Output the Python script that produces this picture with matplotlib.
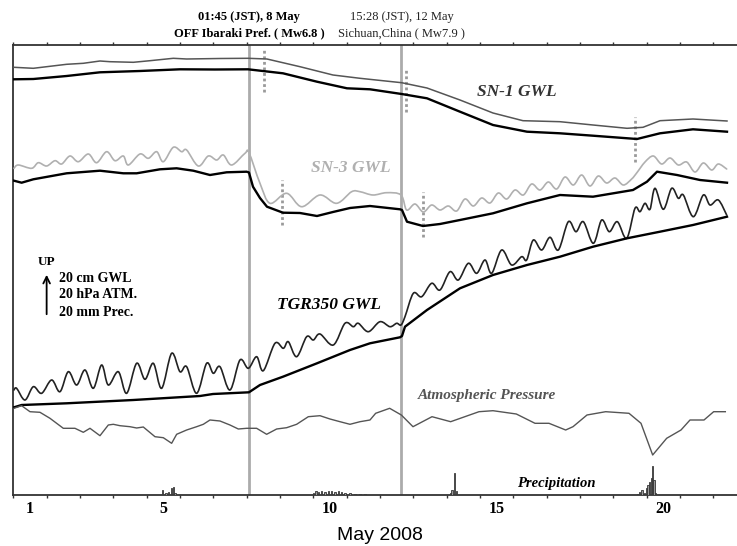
import matplotlib
matplotlib.use("Agg")
import matplotlib.pyplot as plt
import matplotlib.transforms as mtransforms
from matplotlib.path import Path
from matplotlib.patches import PathPatch

# ---------------- data (time in days of May 2008, JST; level in relative units) ----------------
sn1_upper_t = [1.02, 1.60, 2.60, 3.10, 3.60, 3.90, 4.60, 5.10, 5.80, 6.20, 7.20, 8.04, 8.61, 9.60, 10.59,
               11.40, 12.65, 13.41, 14.40, 15.39, 16.29, 17.40, 18.39, 19.41, 19.89, 20.40, 21.39, 22.41]
sn1_upper_v = [427.7, 426.7, 430.7, 431.7, 434.0, 433.3, 432.7, 434.3, 436.7, 436.0, 436.5, 436.7, 436.0, 428.3, 420.0,
               416.7, 412.3, 407.0, 395.0, 382.0, 374.3, 373.3, 370.0, 366.7, 367.7, 374.3, 376.0, 374.0]

sn1_lower_t = [1.02, 1.60, 2.60, 3.60, 4.80, 6.00, 7.05, 8.04, 9.09, 10.11, 11.01, 11.70, 12.65, 13.41,
               14.40, 15.39, 16.41, 17.40, 18.39, 19.71, 20.40, 21.39, 22.41]
sn1_lower_v = [415.7, 416.0, 419.0, 422.7, 424.0, 425.7, 425.5, 425.7, 421.7, 413.3, 406.7, 405.7, 401.0, 396.7,
               383.3, 370.0, 363.3, 361.7, 359.3, 356.0, 361.7, 365.7, 363.3]

sn3_raw_t = [1.02, 1.15, 1.55, 1.75, 2.00, 2.25, 2.45, 2.70, 2.95, 3.25, 3.50, 3.80, 4.05, 4.30, 4.45, 4.80,
             5.05, 5.30, 5.50, 5.80, 6.05, 6.20, 6.55, 6.85, 7.10, 7.30, 7.55, 7.95, 8.07, 8.40, 8.70,
             9.20, 9.65, 10.20, 10.70, 11.15, 11.40, 11.79, 12.20, 12.63, 12.80, 13.05, 13.30, 13.55,
             13.80, 14.05, 14.30, 14.55, 14.80, 15.05, 15.30, 15.55, 15.80, 16.05, 16.30, 16.55, 16.80,
             17.05, 17.30, 17.55, 17.80, 18.05, 18.30, 18.55, 18.80, 19.05, 19.30, 19.55, 19.70, 19.95,
             20.20, 20.45, 20.70, 20.95, 21.20, 21.45, 21.70, 21.95, 22.15, 22.40]
sn3_raw_v = [326.7, 330.0, 326.7, 332.3, 329.0, 334.3, 331.0, 339.0, 333.3, 341.0, 332.3, 343.3, 334.3, 339.0,
             330.0, 341.0, 336.7, 343.3, 333.3, 347.7, 343.3, 345.0, 329.0, 339.0, 335.0, 340.0, 330.0,
             341.7, 342.3, 311.7, 291.7, 301.7, 288.3, 300.0, 291.7, 303.3, 303.3, 300.0, 302.3, 300.0,
             285.0, 291.0, 283.0, 290.0, 285.0, 289.0, 284.0, 296.0, 289.0, 297.0, 292.0, 302.0, 296.0,
             305.0, 300.0, 311.0, 305.0, 313.0, 306.0, 318.0, 310.0, 320.0, 309.0, 319.0, 312.0, 317.0,
             310.0, 316.0, 322.0, 333.0, 339.0, 331.0, 337.0, 330.0, 333.0, 323.0, 332.0, 325.0, 331.0, 326.0]

sn3_corr_t = [1.02, 1.25, 1.60, 2.60, 3.60, 4.30, 4.70, 5.40, 5.90, 6.40, 6.90, 7.40, 8.00, 8.07, 8.19,
              8.40, 8.61, 9.09, 9.60, 10.11, 10.59, 11.10, 11.70, 12.60, 12.66, 12.81, 13.29, 13.80,
              14.40, 15.39, 16.41, 17.40, 18.39, 19.59, 20.01, 20.31, 20.91, 21.60, 22.41]
sn3_corr_v = [314.3, 312.3, 315.7, 321.7, 324.3, 321.7, 321.7, 325.7, 326.7, 324.3, 320.0, 322.7, 323.3, 322.5,
              308.3, 297.0, 288.3, 282.3, 282.0, 279.0, 283.0, 287.0, 289.0, 285.7, 285.0, 273.3, 269.0,
              271.0, 275.0, 281.7, 291.7, 300.0, 298.3, 305.0, 313.3, 323.3, 320.0, 315.0, 312.3]

tgr_raw_t = [1.02, 1.10, 1.35, 1.60, 1.85, 2.15, 2.40, 2.65, 2.90, 3.15, 3.40, 3.65, 3.85, 4.15, 4.40, 4.70,
             4.95, 5.20, 5.45, 5.75, 6.00, 6.20, 6.50, 6.80, 7.00, 7.20, 7.50, 7.80, 8.05, 8.30, 8.50,
             8.85, 9.10, 9.25, 9.50, 9.80, 10.00, 10.20, 10.60, 10.95, 11.20, 11.35, 11.65, 12.00, 12.30,
             12.50, 12.63, 12.75, 13.00, 13.25, 13.55, 13.80, 14.10, 14.35, 14.65, 14.90, 15.15, 15.35,
             15.65, 15.95, 16.25, 16.40, 16.60, 16.85, 17.10, 17.35, 17.65, 17.88, 18.10, 18.40, 18.65,
             18.88, 19.12, 19.40, 19.65, 19.80, 19.95, 20.10, 20.25, 20.50, 20.75, 20.95, 21.10, 21.40,
             21.70, 21.90, 22.15, 22.40]
tgr_raw_v = [105.0, 106.7, 95.0, 108.3, 101.7, 115.0, 103.3, 123.3, 110.0, 125.0, 106.7, 130.0, 110.0, 123.3,
             101.7, 131.7, 115.7, 131.7, 106.7, 141.7, 123.3, 128.3, 101.7, 131.7, 121.7, 128.3, 105.0,
             135.0, 126.7, 138.3, 124.3, 151.7, 146.7, 153.3, 138.3, 158.3, 155.0, 161.0, 150.0, 171.7,
             168.3, 171.7, 163.3, 173.3, 168.3, 171.7, 170.0, 178.3, 201.7, 198.3, 211.7, 205.0, 223.3,
             215.0, 231.7, 221.7, 235.0, 221.7, 245.0, 230.0, 238.3, 235.0, 255.0, 245.0, 257.7, 245.0,
             273.3, 263.3, 273.3, 251.7, 275.0, 263.3, 273.3, 256.7, 286.7, 283.3, 291.7, 285.7, 306.7,
             285.7, 306.7, 296.7, 300.0, 278.3, 300.0, 290.0, 295.0, 280.0]

tgr_corr_t = [1.02, 1.25, 2.60, 4.60, 6.60, 6.99, 8.07, 8.40, 9.09, 10.11, 11.10, 11.70, 12.60, 12.66, 12.75,
              13.41, 14.40, 15.39, 16.41, 17.40, 18.39, 19.41, 20.40, 21.39, 22.41]
tgr_corr_v = [87.7, 90.0, 91.7, 95.0, 99.0, 101.0, 102.7, 110.0, 118.3, 131.7, 145.0, 151.7, 157.7, 159.0, 168.3,
              185.0, 206.7, 220.0, 230.0, 238.3, 248.3, 256.7, 263.3, 270.0, 278.3]

atm_t = [1.02, 1.25, 1.50, 1.80, 2.10, 2.50, 2.85, 3.10, 3.30, 3.60, 3.85, 4.00, 4.20, 4.50, 4.70, 4.90,
         5.25, 5.50, 5.75, 5.90, 6.20, 6.50, 6.70, 6.90, 7.20, 7.50, 7.75, 8.00, 8.30, 8.60, 8.90,
         9.20, 9.50, 9.85, 10.20, 10.50, 10.80, 11.10, 11.40, 11.70, 11.87, 12.29, 12.64, 12.99, 13.56,
         14.12, 14.97, 15.39, 16.09, 16.65, 17.07, 17.57, 17.79, 18.21, 18.77, 19.47, 19.83, 20.18,
         20.60, 21.03, 21.30, 21.72, 22.01, 22.36]
atm_v = [86.7, 89.3, 83.3, 82.7, 76.7, 66.7, 66.7, 62.7, 66.7, 59.3, 70.0, 70.7, 69.3, 68.3, 67.0, 68.0,
         58.3, 57.3, 51.7, 60.7, 65.0, 68.3, 70.7, 75.0, 74.0, 70.0, 66.0, 66.7, 66.7, 60.7, 66.0,
         67.3, 70.7, 78.3, 79.3, 76.0, 73.3, 70.7, 73.3, 75.0, 81.7, 86.7, 80.0, 68.3, 78.3,
         73.3, 83.3, 84.3, 81.0, 71.7, 71.7, 65.0, 68.3, 80.0, 83.3, 81.7, 71.7, 40.0,
         56.7, 65.0, 75.0, 75.0, 83.3, 83.3]

prec_t = [5.48, 5.58, 5.65, 5.75, 5.80, 5.85,
          10.00, 10.08, 10.15, 10.25, 10.35, 10.45, 10.55, 10.65, 10.75, 10.85, 10.95, 11.10, 11.25, 11.40, 11.55,
          14.11, 14.16, 14.23, 14.29,
          19.73, 19.79, 19.86, 19.93, 19.99, 20.04, 20.09, 20.14, 20.18, 20.22, 20.27]
prec_h = [5.0, 2.3, 3.3, 6.7, 8.3, 2.3,
          2.3, 4.3, 3.0, 3.7, 2.7, 3.7, 4.0, 3.3, 3.7, 3.0, 2.3, 1.7, 1.3, 1.0, 1.0,
          2.3, 5.0, 22.3, 4.3,
          1.0, 3.3, 5.0, 2.3, 6.7, 10.0, 13.3, 16.7, 29.0, 15.0, 2.3]

quake_t = [8.073, 12.644]
marker_t = [8.52, 9.06, 12.78, 13.29, 19.65]
marker_lo = [403, 270, 383, 258, 333]
marker_hi = [447, 315, 427, 303, 378]

day_ticks = list(range(1, 23))
label_days = [1, 5, 10, 15, 20]


def smooth_curve(ax, xs, ys, **kw):
    """Draw a smooth Bezier curve passing through the given points."""
    pts = list(zip(xs, ys))
    verts = [pts[0]]
    codes = [Path.MOVETO]
    n = len(pts)
    for i in range(n - 1):
        p0 = pts[i - 1] if i > 0 else pts[i]
        p1 = pts[i]
        p2 = pts[i + 1]
        p3 = pts[i + 2] if i + 2 < n else pts[i + 1]
        c1 = (p1[0] + (p2[0] - p0[0]) / 6.0, p1[1] + (p2[1] - p0[1]) / 6.0)
        c2 = (p2[0] - (p3[0] - p1[0]) / 6.0, p2[1] - (p3[1] - p1[1]) / 6.0)
        verts += [c1, c2, p2]
        codes += [Path.CURVE4] * 3
    ax.add_patch(PathPatch(Path(verts, codes), fill=False, capstyle="round", joinstyle="round", **kw))


# ---------------- figure ----------------
serif = ["Liberation Serif", "DejaVu Serif"]
fig = plt.figure(figsize=(7.37, 5.46), dpi=100)
ax = fig.add_axes([13.3 / 737, 1 - 495 / 546, 1 - 13.3 / 737, 450 / 546])
ax.set_xlim(1, 22.71)
ax.set_ylim(0, 450)

for q in quake_t:
    ax.axvline(q, color="#ababab", lw=2.0, zorder=1)
for t, lo, hi in zip(marker_t, marker_lo, marker_hi):
    ax.plot([t, t], [lo, hi], color="#9a9a9a", lw=2.0, ls=(0, (1, 1)), zorder=1)

ax.plot(sn1_upper_t, sn1_upper_v, color="#555555", lw=1.1, zorder=3)
ax.plot(sn1_lower_t, sn1_lower_v, color="black", lw=1.7, zorder=3)
smooth_curve(ax, sn3_raw_t, sn3_raw_v, edgecolor="#b0b0b0", lw=1.2, zorder=3)
ax.plot(sn3_corr_t, sn3_corr_v, color="black", lw=1.7, zorder=3)
smooth_curve(ax, tgr_raw_t, tgr_raw_v, edgecolor="#222222", lw=1.2, zorder=3)
ax.plot(tgr_corr_t, tgr_corr_v, color="black", lw=1.7, zorder=3)
ax.plot(atm_t, atm_v, color="#555555", lw=1.0, zorder=3)
ax.bar(prec_t, prec_h, width=0.045, bottom=0, color="#9a9a9a", edgecolor="#333333", lw=0.6, zorder=3)

# series labels
lab = dict(family=serif, fontweight="bold", fontstyle="italic", ha="center", va="center")
ax.text(16.09, 403, "SN-1 GWL", color="#333333", fontsize=12.5, **lab)
ax.text(11.11, 327, "SN-3 GWL", color="#b0b0b0", fontsize=12.5, **lab)
ax.text(10.47, 190, "TGR350 GWL", color="black", fontsize=12.5, **lab)
ax.text(15.21, 100, "Atmospheric Pressure", color="#555555", fontsize=11, **lab)
ax.text(17.29, 11, "Precipitation", color="black", fontsize=10.5, **lab)

# scale legend
ax.text(2.0, 233, "UP", family=serif, fontweight="bold", fontsize=9.5, ha="center", va="center")
ax.annotate("", xy=(2.0, 223), xytext=(2.0, 178),
            arrowprops=dict(arrowstyle="->", lw=1.3, color="black", mutation_scale=12))
for v, s in zip([217, 200, 183], ["20 cm GWL", "20 hPa ATM.", "20 mm Prec."]):
    ax.text(2.38, v, s, family=serif, fontweight="bold", fontsize=10, ha="left", va="center")

# earthquake annotations
tr = mtransforms.blended_transform_factory(ax.transData, fig.transFigure)
ax.text(quake_t[0], 1 - 17 / 546, "01:45 (JST), 8 May", transform=tr, family=serif,
        fontweight="bold", fontsize=9, ha="center", va="center")
ax.text(quake_t[0], 1 - 33 / 546, "OFF Ibaraki Pref. ( Mw6.8 )", transform=tr, family=serif,
        fontweight="bold", fontsize=9, ha="center", va="center")
ax.text(quake_t[1], 1 - 17 / 546, "15:28 (JST), 12 May", transform=tr, family=serif,
        fontsize=9, ha="center", va="center", color="#222222")
ax.text(quake_t[1], 1 - 33 / 546, "Sichuan,China ( Mw7.9 )", transform=tr, family=serif,
        fontsize=9, ha="center", va="center", color="#222222")

# axes styling
ax.spines["right"].set_visible(False)
for s in ["top", "bottom", "left"]:
    ax.spines[s].set_color("#333333")
    ax.spines[s].set_linewidth(1.3)
ax.set_yticks([])
ax.set_xticks(day_ticks)
ax.set_xticklabels([])
ax.tick_params(axis="x", which="major", direction="out", length=2.2, width=1.0, color="#333333",
               top=True, bottom=True)
ax.set_xticks([d + 0.5 for d in label_days], minor=True)
ax.set_xticklabels([str(d) for d in label_days], minor=True, family=serif, fontweight="bold", fontsize=11.5)
ax.tick_params(axis="x", which="minor", length=0, pad=4)

fig.text(380 / 737, 1 - 535 / 546, "May 2008", family=["Liberation Sans", "DejaVu Sans"],
         fontsize=14, ha="center", va="center")

fig.savefig("out.png", dpi=100)
